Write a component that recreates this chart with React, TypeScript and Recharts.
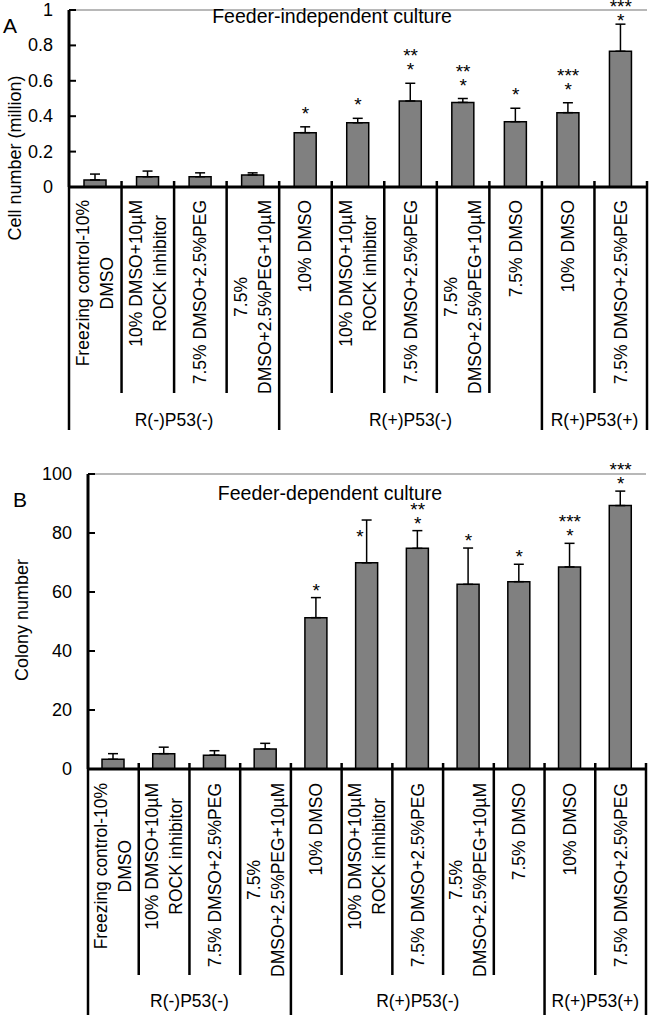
import React from 'react';
import { ComposedChart, Bar, Line, XAxis, YAxis, ErrorBar, LabelList, ReferenceLine } from 'recharts';

const FONT = '"Liberation Sans", Arial, sans-serif';

// category labels (line breaks as in the original figure)
const categories = [
  'Freezing control-10%\nDMSO',
  '10% DMSO+10µM\nROCK inhibitor',
  '7.5% DMSO+2.5%PEG',
  '7.5%\nDMSO+2.5%PEG+10µM',
  '10% DMSO',
  '10% DMSO+10µM\nROCK inhibitor',
  '7.5% DMSO+2.5%PEG',
  '7.5%\nDMSO+2.5%PEG+10µM',
  '7.5% DMSO',
  '10% DMSO',
  '7.5% DMSO+2.5%PEG',
];
const groups = ['R(-)P53(-)', 'R(+)P53(-)', 'R(+)P53(+)'];
const groupSizes = [4, 5, 2];

// panel A: feeder-independent, cell number (million)
const cellMean = [0.04, 0.058, 0.058, 0.068, 0.307, 0.363, 0.486, 0.478, 0.369, 0.42, 0.767];
const cellSem = [0.033, 0.032, 0.022, 0.012, 0.033, 0.025, 0.1, 0.022, 0.076, 0.056, 0.153];
const cellStars = ['', '', '', '', '*', '*', '**\n*', '**\n*', '*', '***\n*', '***\n*'];
const cellTicks = [0, 0.2, 0.4, 0.6, 0.8, 1];

// panel B: feeder-dependent, colony number
const colonyMean = [3.3, 5.2, 4.7, 6.8, 51.3, 69.9, 74.8, 62.6, 63.5, 68.5, 89.3];
const colonySem = [1.9, 2.2, 1.5, 1.9, 6.8, 14.5, 6.0, 12.3, 5.9, 8.0, 4.9];
const colonyStars = ['', '', '', '', '*', '*', '**\n*', '*', '*', '***\n*', '***\n*'];
const colonyTicks = [0, 20, 40, 60, 80, 100];

const groupStarts = groupSizes.map((_, g) => groupSizes.slice(0, g).reduce((a, b) => a + b, 0));

let ctx: CanvasRenderingContext2D | null = null;
const measure = (s: string, font: string) => {
  if (!ctx) ctx = document.createElement('canvas').getContext('2d');
  if (!ctx) return s.length * 9;
  ctx.font = font;
  return ctx.measureText(s).width;
};

const CAT_SIZE = 17.5;
const FRAME = '#a0a0a0';

const CategoryTick = (props: any) => {
  const { x, y, payload, band, spec } = props;
  const index = payload.index ?? props.index;
  const lines = String(payload.value).split('\n');
  const maxLen = Math.max(...lines.map((l) => measure(l, `${CAT_SIZE}px ${FONT}`)));
  const midY = y + spec.labelGap + maxLen / 2;
  const left = x - band / 2;
  const g = groupStarts.indexOf(index);
  const isLast = index === categories.length - 1;
  return (
    <g>
      {lines.map((l, k) => (
        <text
          key={k}
          transform={`translate(${x + (k - (lines.length - 1) / 2) * 24},${midY}) rotate(-90)`}
          textAnchor="middle"
          dominantBaseline="central"
          fontSize={CAT_SIZE}
          fontFamily={FONT}
          fill="#000"
        >
          {l}
        </text>
      ))}
      {index > 0 && (
        <line x1={left} x2={left} y1={y - 6} y2={y + (g >= 0 ? spec.longSep : spec.shortSep)} stroke="#000" strokeWidth={2.5} />
      )}
      {index === 0 && <line x1={left} x2={left} y1={y} y2={y + spec.longSep} stroke="#000" strokeWidth={2.5} />}
      {isLast && (
        <line x1={left + band} x2={left + band} y1={y - 6} y2={y + spec.longSep} stroke="#000" strokeWidth={2.5} />
      )}
      {g >= 0 && (
        <text
          x={left + (groupSizes[g] * band) / 2}
          y={y + spec.groupGap}
          textAnchor="middle"
          dominantBaseline="central"
          fontSize={CAT_SIZE}
          fontFamily={FONT}
          fill="#000"
        >
          {groups[g]}
        </text>
      )}
    </g>
  );
};

const YTick = (props: any) => {
  const { x, y, payload } = props;
  return (
    <g>
      <line x1={x + 16} x2={x + 23} y1={y} y2={y} stroke="#000" strokeWidth={2} />
      <text x={x} y={y} textAnchor="end" dominantBaseline="central" fontSize={18} fontFamily={FONT} fill="#000">
        {payload.value}
      </text>
    </g>
  );
};

// significance marks, drawn above the top of each error bar
const makeStars = (lift: number, nudge: Record<number, [number, number]>) => (props: any) => {
  const { x, y, value, index } = props;
  if (!value) return null;
  const lines = String(value).split('\n');
  const [dx, dy] = nudge[index] || [0, 0];
  const base = y - lift + 10 + dy;
  return (
    <text x={x + dx} y={base - (lines.length - 1) * 14} textAnchor="middle" fontSize={19} fontFamily={FONT} fill="#000">
      {lines.map((s, k) => (
        <tspan key={k} x={x + dx} dy={k === 0 ? 0 : 14}>
          {s}
        </tspan>
      ))}
    </text>
  );
};

const Panel = ({ spec }: { spec: any }) => {
  const data = categories.map((name, i) => ({
    name,
    mean: spec.mean[i],
    err: [0, spec.sem[i]],
    top: spec.mean[i] + spec.sem[i],
    stars: spec.stars[i],
  }));
  const band = (650 - spec.left - spec.right) / categories.length;
  return (
    <div style={{ position: 'absolute', left: 0, top: spec.top, width: 650, height: spec.height }}>
      <ComposedChart
        width={650}
        height={spec.height}
        data={data}
        margin={{ top: spec.plotTop, right: spec.right, bottom: 0, left: 0 }}
        barSize={22}
      >
        <XAxis
          dataKey="name"
          height={spec.xHeight}
          interval={0}
          tickSize={0}
          tickMargin={0}
          tickLine={false}
          axisLine={{ stroke: '#000', strokeWidth: 3 }}
          tick={(p: any) => <CategoryTick {...p} band={band} spec={spec} />}
        />
        <YAxis
          width={spec.left}
          domain={spec.domain}
          ticks={spec.ticks}
          interval={0}
          tickSize={0}
          tickMargin={16}
          tickLine={false}
          axisLine={{ stroke: '#000', strokeWidth: 3 }}
          tick={(p: any) => <YTick {...p} />}
        />
        <YAxis
          yAxisId="frame"
          orientation="right"
          width={0}
          domain={spec.domain}
          allowDataOverflow
          tick={false}
          tickLine={false}
          axisLine={{ stroke: FRAME, strokeWidth: 1.5 }}
        />
        <ReferenceLine y={spec.domain[1]} stroke={FRAME} strokeWidth={1.5} ifOverflow="visible" />
        <Bar dataKey="mean" fill="#808080" stroke="#000" strokeWidth={1.5} isAnimationActive={false}>
          <ErrorBar dataKey="err" width={5} stroke="#000" strokeWidth={1.5} direction="y" />
        </Bar>
        <Line yAxisId="frame" dataKey="top" stroke="none" dot={false} activeDot={false} isAnimationActive={false}>
          <LabelList dataKey="stars" content={makeStars(spec.lift, spec.nudge)} />
        </Line>
      </ComposedChart>
      <svg width={650} height={spec.height} style={{ position: 'absolute', left: 0, top: 0, pointerEvents: 'none', overflow: 'visible' }}>
        <text x={spec.letterX} y={spec.letterY} fontSize={21} fontFamily={FONT} fill="#000">
          {spec.letter}
        </text>
        <text x={spec.titleX} y={spec.titleY} textAnchor="middle" fontSize={19.5} fontFamily={FONT} fill="#000">
          {spec.title}
        </text>
        <text
          transform={`translate(${spec.yLabelX},${spec.yLabelY}) rotate(-90)`}
          textAnchor="middle"
          dominantBaseline="central"
          fontSize={18}
          fontFamily={FONT}
          fill="#000"
        >
          {spec.yLabel}
        </text>
      </svg>
    </div>
  );
};

const panelA = {
  top: 0, height: 450, plotTop: 10, left: 69, right: 3, xHeight: 263,
  labelGap: 13, shortSep: 206, longSep: 243, groupGap: 233,
  mean: cellMean, sem: cellSem, stars: cellStars, ticks: cellTicks, domain: [0, 1],
  lift: 17, nudge: { 10: [0, 10] },
  letter: 'A', letterX: 3, letterY: 33,
  title: 'Feeder-independent culture', titleX: 332, titleY: 23,
  yLabel: 'Cell number (million)', yLabelX: 15, yLabelY: 158,
};

const panelB = {
  top: 455, height: 560, plotTop: 19, left: 88, right: 4, xHeight: 246,
  labelGap: 14, shortSep: 206, longSep: 246, groupGap: 232,
  mean: colonyMean, sem: colonySem, stars: colonyStars, ticks: colonyTicks, domain: [0, 100],
  lift: 11, nudge: { 5: [-7, 24] },
  letter: 'B', letterX: 13, letterY: 52,
  title: 'Feeder-dependent culture', titleX: 330, titleY: 45,
  yLabel: 'Colony number', yLabelX: 22, yLabelY: 165,
};

export default function App() {
  return (
    <div style={{ position: 'absolute', left: 0, top: 0, width: 650, height: 1015, background: '#fff' }}>
      <Panel spec={panelA} />
      <Panel spec={panelB} />
    </div>
  );
}
